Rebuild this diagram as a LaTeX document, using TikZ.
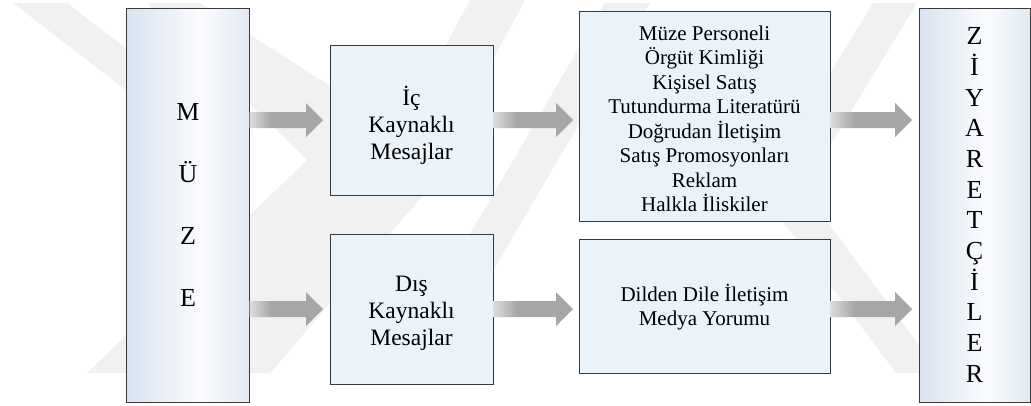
\documentclass[tikz,border=0pt]{standalone}
\usepackage{fontspec}
\setmainfont{Liberation Serif}
\newfontfamily\tnr{Liberation Serif}
\usetikzlibrary{calc}
\definecolor{wm}{HTML}{F1F1F1}
\definecolor{boxfill}{HTML}{EAF3F9}
\definecolor{bsl}{HTML}{D9E3F0}
\definecolor{bsm}{HTML}{FAFBFD}
\definecolor{bsr}{HTML}{E2E9F4}
\definecolor{agl}{HTML}{DCDCDC}
\definecolor{ag}{HTML}{A6A6A6}
\definecolor{edge}{HTML}{3A3A3A}
\pgfdeclarehorizontalshading{boxshade}{100bp}{color(0bp)=(bsl); color(25bp)=(bsl); color(55bp)=(bsm); color(75bp)=(bsr); color(100bp)=(bsr)}
\pgfdeclarehorizontalshading{arrowshade}{100bp}{color(0bp)=(agl); color(25bp)=(agl); color(40bp)=(ag); color(100bp)=(ag)}
\newcommand{\fatarrow}[2]{%
  \shade[shading=arrowshade] let \p1=#1, \p2=#2 in
    (\x1,\y1+8pt) -- (\x2-17pt,\y1+8pt) -- (\x2-17pt,\y1+17pt) -- (\x2,\y1)
    -- (\x2-17pt,\y1-17pt) -- (\x2-17pt,\y1-8pt) -- (\x1,\y1-8pt) -- cycle;}
\tikzset{
  tallbox/.style={draw=edge, line width=0.8pt, shading=boxshade,
    inner sep=0pt, outer sep=0pt, align=center, font=\tnr\fontsize{26}{61.7}\selectfont},
  msgbox/.style={draw=edge, line width=0.8pt, fill=boxfill,
    inner sep=0pt, outer sep=0pt},
  msgtext/.style={inner sep=0pt, align=center, font=\tnr\fontsize{23.5}{27}\selectfont},
  listtext/.style={inner sep=0pt, align=center, font=\tnr\fontsize{21}{24.5}\selectfont},
}
\begin{document}
\begin{tikzpicture}[x=1pt,y=-1pt]
\useasboundingbox (0,0) rectangle (1031,405);
\fill[white] (0,0) rectangle (1031,405);
% faint watermark
\fill[wm] (13,3) -- (67,3) -- (245,140) -- (245,182) -- cycle;
\fill[wm] (147,3) -- (200,3) -- (451,163) -- (270,373) -- (87,373) -- (307,160) -- cycle;
\fill[wm] (470,0) -- (525,0) -- (420,195) -- (365,195) -- cycle;
\fill[wm] (605,3) -- (650,3) -- (433,373) -- (389,373) -- cycle;
\fill[wm] (873,3) -- (917,3) -- (803,190) -- (940,373) -- (896,373) -- (759,190) -- cycle;
% boxes
\node[tallbox, minimum width=123pt, minimum height=394pt] (muze) at (188,205) {M\\Ü\\Z\\E};
\node[msgbox, minimum width=163pt, minimum height=150pt] (ic) at (411.5,120) {};
\node[msgtext] (icT) at (411.5,125) {İç\\Kaynaklı\\Mesajlar};
\node[msgbox, minimum width=163pt, minimum height=150pt] (dis) at (411.5,309) {};
\node[msgtext] (disT) at (411.5,313) {Dış\\Kaynaklı\\Mesajlar};
\node[msgbox, minimum width=251pt, minimum height=210pt] (ilet) at (704.5,116) {};
\node[listtext] (iletT) at (704.5,119)
  {Müze Personeli\\Örgüt Kimliği\\Kişisel Satış\\Tutundurma Literatürü\\Doğrudan İletişim\\Satış Promosyonları\\Reklam\\Halkla İliskiler};
\node[msgbox, minimum width=251pt, minimum height=134pt] (dil) at (704.5,306) {};
\node[listtext] (dilT) at (704.5,307) {Dilden Dile İletişim\\Medya Yorumu};
\node[tallbox, minimum width=111pt, minimum height=394pt,
      font=\tnr\fontsize{26}{30.7}\selectfont] (ziy) at (974.5,205)
  {Z\\İ\\Y\\A\\R\\E\\T\\Ç\\İ\\L\\E\\R};
% arrows
\fatarrow{(muze.east |- ic.west)}{($(ic.west)+(-7,0)$)}
\fatarrow{(muze.east |- dis.west)}{($(dis.west)+(-7,0)$)}
\fatarrow{(ic.east)}{($(ic.east -| ilet.west)+(-6,0)$)}
\fatarrow{(dis.east)}{($(dis.east -| dil.west)+(-6,0)$)}
\fatarrow{(ilet.east |- ic.east)}{($(ic.east -| ziy.west)+(-7,0)$)}
\fatarrow{(dil.east |- dis.east)}{($(dis.east -| ziy.west)+(-7,0)$)}
\end{tikzpicture}
\end{document}
